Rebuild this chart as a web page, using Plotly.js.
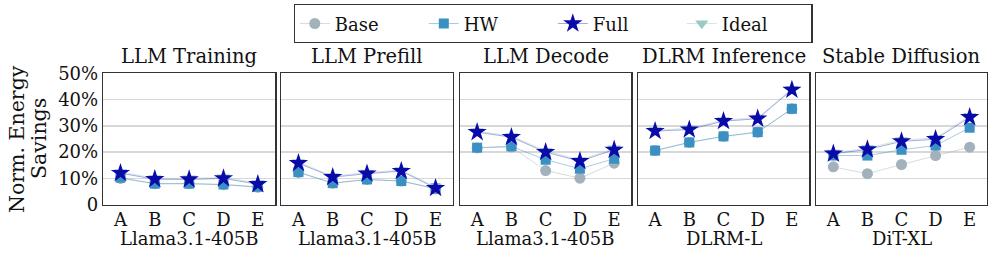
<!DOCTYPE html>
<html>
<head>
<meta charset="utf-8">
<script src="https://cdn.plot.ly/plotly-3.0.1.min.js"></script>
<style>html,body{margin:0;padding:0;background:#fff;}#chart{width:997px;height:263px;}</style>
</head>
<body>
<div id="chart"></div>
<script>
// ---- data ----
const categories = ['A', 'B', 'C', 'D', 'E'];
const panelTitles = ['LLM Training', 'LLM Prefill', 'LLM Decode', 'DLRM Inference', 'Stable Diffusion'];
const modelNames = ['Llama3.1-405B', 'Llama3.1-405B', 'Llama3.1-405B', 'DLRM-L', 'DiT-XL'];
const seriesNames = ['Base', 'HW', 'Full', 'Ideal'];
const yTickVals = [0, 10, 20, 30, 40, 50];
const yTickText = ['0', '10%', '20%', '30%', '40%', '50%'];
const yTitleLines = ['Norm. Energy', 'Savings'];

const base = [
  [10.0, 8.0, 8.0, 7.6, 6.6],
  [12.3, 8.2, 9.6, 9.0, 6.0],
  [21.6, 22.0, 13.0, 10.1, 15.8],
  [20.6, 23.7, 26.0, 27.6, 36.5],
  [14.4, 11.8, 15.3, 18.7, 21.9]
];
const hw = [
  [10.3, 8.0, 8.0, 7.7, 6.8],
  [12.4, 8.2, 9.6, 9.0, 6.2],
  [21.7, 22.2, 17.1, 13.7, 17.5],
  [20.6, 23.7, 26.0, 27.6, 36.5],
  [18.7, 18.7, 20.9, 22.5, 29.3]
];
const full = [
  [12.0, 9.7, 9.6, 10.0, 7.8],
  [15.8, 10.5, 11.8, 12.8, 6.3],
  [27.6, 25.7, 20.0, 16.6, 20.9],
  [28.0, 28.6, 31.8, 32.7, 43.7],
  [19.4, 21.0, 24.1, 24.9, 33.3]
];
const ideal = [
  [12.4, 10.1, 10.0, 10.4, 8.2],
  [16.2, 10.9, 12.2, 13.2, 6.7],
  [28.0, 26.1, 20.5, 17.0, 21.4],
  [28.4, 29.0, 32.2, 33.1, 44.1],
  [19.8, 21.5, 24.6, 25.4, 33.8]
];

// ---- styles ----
const W = 997, H = 263;
const panelPx = [[103.3, 275], [281.3, 452.7], [460, 631.3], [638, 809], [816.3, 986.7]];
const yTopPx = 73.3, yBotPx = 204.7;
const FONT = 'DejaVu Serif, serif';

const styles = {
  Base:  {color: '#a3b1ba', line: 'rgba(163,177,186,0.45)', symbol: 'circle', size: 11, rank: 1},
  HW:    {color: '#3a90c3', line: 'rgba(58,144,195,0.45)', symbol: 'square', size: 10, rank: 2},
  Full:  {color: '#0a0aa8', line: 'rgba(10,10,168,0.35)', symbol: 'star', size: 14.5, rank: 3},
  Ideal: {color: '#98cbc3', line: 'rgba(152,203,195,0.45)', symbol: 'triangle-down', size: 11.5, rank: 4}
};
const dataBySeries = {Base: base, HW: hw, Full: full, Ideal: ideal};
const drawOrder = ['Base', 'HW', 'Ideal', 'Full'];

const traces = [];
const layout = {
  width: W, height: H,
  margin: {l: 0, r: 0, t: 0, b: 0},
  paper_bgcolor: '#fff', plot_bgcolor: '#fff',
  font: {family: FONT, size: 16, color: '#111'},
  showlegend: true,
  legend: {
    orientation: 'h', x: 553 / W, xanchor: 'center', y: 1 - 4 / H, yanchor: 'top',
    bordercolor: '#333', borderwidth: 1.3, font: {family: FONT, size: 18, color: '#111'},
    entrywidth: 84, entrywidthmode: 'pixels', traceorder: 'normal'
  },
  annotations: []
};

for (let p = 0; p < 5; p++) {
  const ax = p === 0 ? '' : String(p + 1);
  drawOrder.forEach(name => {
    const s = styles[name];
    traces.push({
      type: 'scatter', mode: 'lines+markers', name: name,
      x: categories, y: dataBySeries[name][p],
      xaxis: 'x' + ax, yaxis: 'y' + ax,
      legendgroup: name, showlegend: p === 0, legendrank: s.rank,
      line: {color: s.line, width: 1},
      marker: {color: s.color, symbol: s.symbol, size: s.size, line: {width: 0}},
      cliponaxis: false
    });
  });
  layout['xaxis' + ax] = {
    domain: [panelPx[p][0] / W, panelPx[p][1] / W],
    anchor: 'y' + ax, type: 'category', range: [-0.5, 4.5],
    showline: true, mirror: true, linecolor: '#333', linewidth: 1.5,
    showgrid: false, ticks: '', zeroline: false, ticklabelstandoff: -2,
    tickfont: {family: FONT, size: 18, color: '#111'}, fixedrange: true
  };
  layout['yaxis' + ax] = {
    domain: [1 - yBotPx / H, 1 - yTopPx / H],
    anchor: 'x' + ax, range: [0, 50],
    tickvals: yTickVals, ticktext: yTickText, showticklabels: p === 0,
    showline: true, mirror: true, linecolor: '#333', linewidth: 1.5,
    showgrid: true, gridcolor: '#d8d8d8', gridwidth: 1.3, zeroline: false, ticks: '',
    tickfont: {family: FONT, size: 18, color: '#111'}, fixedrange: true
  };
  const cx = (panelPx[p][0] + panelPx[p][1]) / 2 / W;
  layout.annotations.push({
    text: panelTitles[p], xref: 'paper', yref: 'paper', x: cx, y: 1 - 57 / H,
    xanchor: 'center', yanchor: 'middle', showarrow: false,
    font: {family: FONT, size: 19.5, color: '#111'}
  });
  layout.annotations.push({
    text: modelNames[p], xref: 'paper', yref: 'paper', x: cx, y: 1 - 238 / H,
    xanchor: 'center', yanchor: 'middle', showarrow: false,
    font: {family: FONT, size: 18, color: '#111'}
  });
}
[17, 39].forEach((px, i) => {
  layout.annotations.push({
    text: yTitleLines[i], xref: 'paper', yref: 'paper',
    x: px / W, y: 1 - 139 / H, xanchor: 'center', yanchor: 'middle',
    textangle: -90, showarrow: false, font: {family: FONT, size: 20.5, color: '#111'}
  });
});

Plotly.newPlot('chart', traces, layout, {displayModeBar: false, staticPlot: true});
</script>
</body>
</html>
